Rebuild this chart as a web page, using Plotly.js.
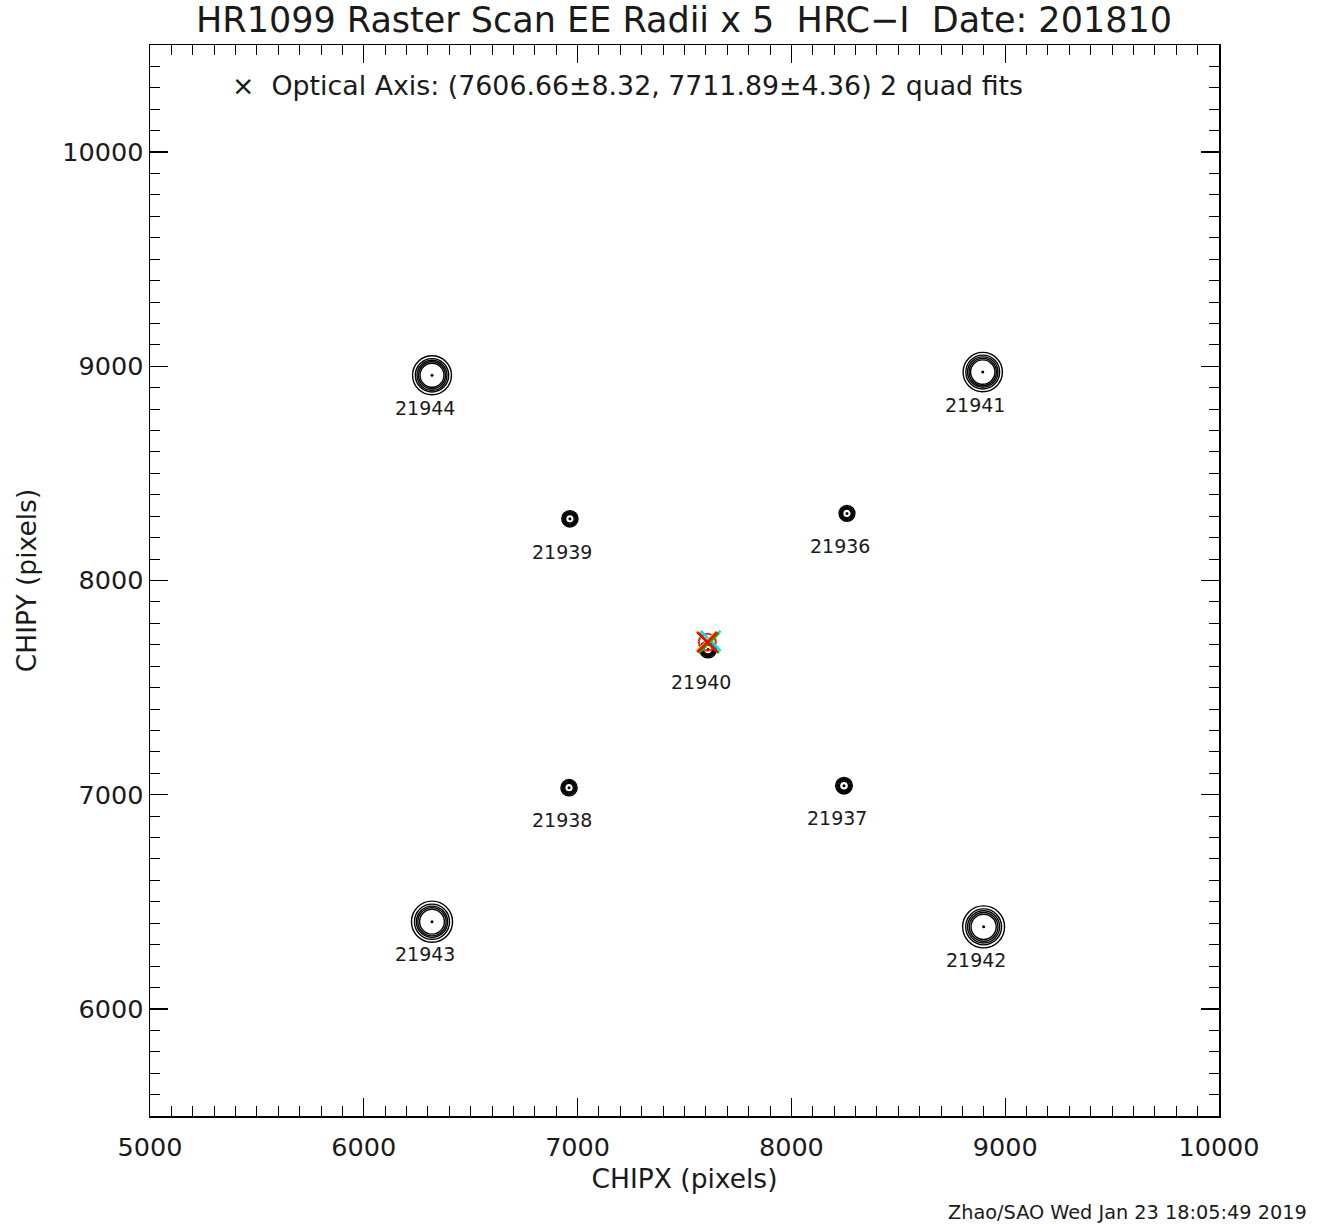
<!DOCTYPE html>
<html>
<head>
<meta charset="utf-8">
<script src="https://cdn.plot.ly/plotly-3.0.1.min.js"></script>
<style>html,body{margin:0;padding:0;background:#fff;}#chart{width:1327px;height:1225px;}</style>
</head>
<body>
<div id="chart"></div>
<script>
// ---- data ----
var obsIds = ['21936','21937','21938','21939','21940','21941','21942','21943','21944'];
var centerX = [8260, 8246, 6960, 6964, 7610, 8895, 8899, 6319, 6319];
var centerY = [8313, 7042, 7033, 8288, 7678, 8973, 6383, 6407, 8958];
// EE radii x 5 (five rings per source, data units)
var ring1 = [37, 39, 38, 38, 39, 92, 98, 96, 91];
var ring2 = [32, 34, 33, 33, 34, 79, 84, 82, 78];
var ring3 = [28, 30, 29, 29, 30, 71, 75, 73, 70];
var ring4 = [24, 26, 25, 25, 26, 64, 67, 66, 63];
var ring5 = [20, 21, 20, 20, 21, 57, 59, 58, 56];
var opticalAxisX = [7606.66];
var opticalAxisY = [7711.89];
var fitX = [7622, 7603, 7614, 7606.66];
var fitY = [7718, 7716, 7708, 7711.89];
var fitColors = ['#00e0ff', '#ffd000', '#00c000', '#ff0000'];
var titleText = 'HR1099 Raster Scan EE Radii x 5  HRC\u2212I  Date: 201810';
var legendText = '\u00d7  Optical Axis: (7606.66\u00b18.32, 7711.89\u00b14.36) 2 quad fits';
var footerText = 'Zhao/SAO Wed Jan 23 18:05:49 2019';

// ---- build ----
var FONT = 'DejaVu Sans, sans-serif';
var TXT = '#1a1a1a';
var rings = [ring1, ring2, ring3, ring4, ring5];
var shapes = [];
for (var i = 0; i < obsIds.length; i++) {
  for (var k = 0; k < rings.length; k++) {
    var r = rings[k][i];
    shapes.push({type: 'circle', xref: 'x', yref: 'y', layer: 'below',
      x0: centerX[i] - r, x1: centerX[i] + r, y0: centerY[i] - r, y1: centerY[i] + r,
      line: {color: '#000', width: 1.4}});
  }
}
var annotations = [];
for (var j = 0; j < obsIds.length; j++) {
  annotations.push({x: centerX[j] - 35, y: centerY[j] - 153, xref: 'x', yref: 'y',
    text: obsIds[j], showarrow: false, xanchor: 'center', yanchor: 'middle',
    font: {family: FONT, size: 19, color: TXT}});
}
annotations.push({x: (230 - 150) / 1069, y: (1116 - 86) / 1071, xref: 'paper', yref: 'paper',
  text: legendText, showarrow: false, xanchor: 'left', yanchor: 'middle',
  font: {family: FONT, size: 26.8, color: TXT}});
annotations.push({x: (1309 - 150) / 1069, y: (1116 - 1212) / 1071, xref: 'paper', yref: 'paper',
  text: footerText, showarrow: false, xanchor: 'right', yanchor: 'middle',
  font: {family: FONT, size: 19.3, color: TXT}});

var traces = [
  {x: centerX, y: centerY, mode: 'markers', type: 'scatter',
   marker: {symbol: 'circle', size: 3, color: '#000'}, hoverinfo: 'skip'},
  {x: opticalAxisX, y: opticalAxisY, mode: 'markers', type: 'scatter',
   marker: {symbol: 'circle-open', size: 17, color: '#ff2020', line: {width: 2, color: '#ff2020'}}},
  {x: fitX, y: fitY, mode: 'markers', type: 'scatter',
   marker: {symbol: 'x-thin-open', size: 20, color: fitColors, line: {width: 2.5, color: fitColors}}}
];

var axisCommon = {
  showgrid: false, zeroline: false, showline: true, linecolor: '#000', linewidth: 1.5,
  mirror: 'allticks', ticks: 'inside', ticklen: 18, tickwidth: 1.3, tickcolor: '#000',
  tickformat: 'd',
  tickfont: {family: FONT, size: 25.5, color: TXT},
  minor: {dtick: 100, ticks: 'inside', ticklen: 10, tickwidth: 1, tickcolor: '#000'}
};
var xaxis = Object.assign({}, axisCommon, {
  range: [5000, 10000], dtick: 1000, tick0: 0, ticklabelstandoff: 8,
  title: {text: 'CHIPX (pixels)', font: {family: FONT, size: 26.5, color: TXT}, standoff: 8}
});
var yaxis = Object.assign({}, axisCommon, {
  range: [5500, 10500], dtick: 1000, tick0: 0,
  title: {text: 'CHIPY (pixels)', font: {family: FONT, size: 26.5, color: TXT}, standoff: 18}
});

var layout = {
  width: 1327, height: 1225,
  margin: {l: 150, r: 108, t: 45, b: 109, pad: 0},
  paper_bgcolor: '#fff', plot_bgcolor: '#fff',
  showlegend: false,
  title: {text: titleText, x: (684 / 1327), xanchor: 'center', y: 1 - 20 / 1225, yanchor: 'middle',
    font: {family: FONT, size: 35, color: TXT}},
  xaxis: xaxis, yaxis: yaxis,
  shapes: shapes, annotations: annotations
};
Plotly.newPlot('chart', traces, layout, {displayModeBar: false, staticPlot: true});
</script>
</body>
</html>
